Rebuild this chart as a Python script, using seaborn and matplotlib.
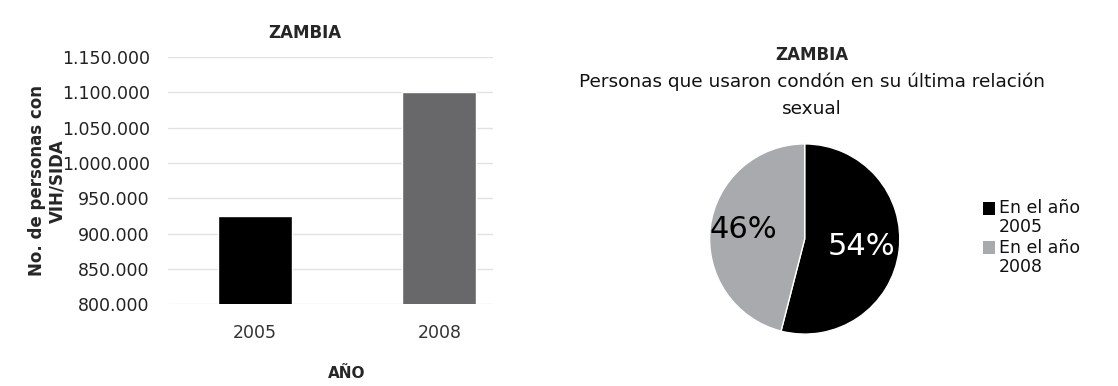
import matplotlib
matplotlib.use("Agg")
import matplotlib.pyplot as plt
from matplotlib.ticker import FuncFormatter
from matplotlib.patches import Rectangle
import seaborn as sns
import pandas as pd

# Data
years = ["2005", "2008"]
people_hiv = [925000, 1100000]
bar_colors = ["#000000", "#68686b"]
y_ticks = [800000, 850000, 900000, 950000, 1000000, 1050000, 1100000, 1150000]

pie_labels = ["En el año\n2005", "En el año\n2008"]
pie_shares = [54, 46]
pie_colors = ["#000000", "#a9aaae"]
pie_text_colors = ["white", "black"]

sns.set_theme(style="white")
plt.rcParams["font.family"] = ["DejaVu Sans"]

fig = plt.figure(figsize=(11.18, 3.86), dpi=100)
fig.patch.set_facecolor("white")

# ---- Bar chart ----
ax = fig.add_axes([0.150, 0.212, 0.291, 0.640])
df = pd.DataFrame({"year": years, "value": people_hiv})
sns.barplot(data=df, x="year", y="value", hue="year", palette=bar_colors,
            width=0.4, legend=False, ax=ax, zorder=3)
ax.set_ylim(800000, 1150000)
ax.set_xlim(-0.47, 1.29)
ax.set_yticks(y_ticks)
ax.yaxis.set_major_formatter(FuncFormatter(lambda v, p: f"{int(v):,}".replace(",", ".")))
ax.grid(axis="y", color="#e2e2e2", linewidth=1.0, zorder=0)
ax.grid(axis="x", visible=False)
for s in ax.spines.values():
    s.set_visible(False)
ax.tick_params(axis="y", labelsize=12.5, pad=13, length=0, colors="#222222")
ax.tick_params(axis="x", labelsize=12.5, pad=14, length=0, colors="#333333")
ax.set_xlabel("AÑO", fontsize=11, fontweight="bold")
ax.xaxis.set_label_coords(0.55, -0.25)
ax.set_ylabel("No. de personas con\nVIH/SIDA", fontsize=12, fontweight="bold")
ax.yaxis.set_label_coords(-0.31, 0.5)
ax.set_title("ZAMBIA", fontsize=12, fontweight="bold", pad=14, x=0.42)

# ---- Pie chart ----
pax = fig.add_axes([0.633, 0.1295, 0.1735, 0.5026])
wedges, texts, autotexts = pax.pie(
    pie_shares, colors=pie_colors, startangle=90, counterclock=False,
    autopct=lambda p: f"{p:.0f}%", pctdistance=0.62, radius=1.0,
    textprops={"fontsize": 22},
)
for t, c in zip(autotexts, pie_text_colors):
    t.set_color(c)
autotexts[0].set_position((0.6, -0.08))
autotexts[1].set_position((-0.65, 0.1))
pax.set_xlim(-1.02, 1.02)
pax.set_ylim(-1.02, 1.02)
pax.set_aspect("equal")

fig.text(0.7265, 0.857, "ZAMBIA", ha="center", va="center",
         fontsize=12, fontweight="bold")
fig.text(0.7265, 0.787, "Personas que usaron condón en su última relación",
         ha="center", va="center", fontsize=13.3, color="#111111")
fig.text(0.7265, 0.717, "sexual", ha="center", va="center",
         fontsize=13.3, color="#111111")

# Legend: square swatch next to the first line of each two-line label
leg_tops = [208, 248]
for label, color, y_px in zip(pie_labels, pie_colors, leg_tops):
    yf = 1 - y_px / 386
    fig.patches.append(Rectangle((983 / 1118, yf - 6.5 / 386), 12 / 1118, 13 / 386,
                                 transform=fig.transFigure, facecolor=color,
                                 edgecolor="none"))
    fig.text(999 / 1118, yf + 9 / 386, label, ha="left", va="top",
             fontsize=12.5, linespacing=1.05, color="#111111")

fig.savefig("out.png", dpi=100, facecolor="white")
